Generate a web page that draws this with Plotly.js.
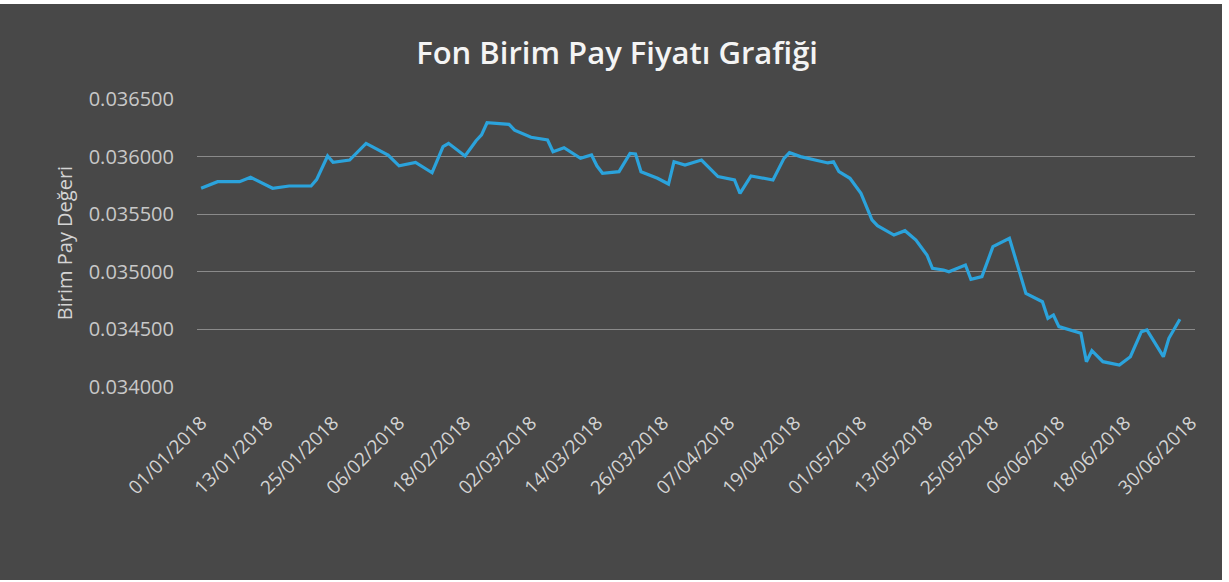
<!DOCTYPE html>
<html>
<head>
<meta charset="utf-8">
<script src="https://cdn.plot.ly/plotly-3.0.1.min.js"></script>
<style>
html,body{margin:0;padding:0;background:#ffffff;}
#chart{position:absolute;left:0;top:4px;width:1222px;height:576px;}
</style>
</head>
<body>
<div id="chart"></div>
<script>
// Dates of the readings (YYYY-MM-DD)
const dates = [
 "2018-01-01","2018-01-04","2018-01-08","2018-01-10","2018-01-14","2018-01-17","2018-01-21","2018-01-22",
 "2018-01-24","2018-01-25","2018-01-28","2018-01-31","2018-02-04","2018-02-05","2018-02-06","2018-02-09",
 "2018-02-12","2018-02-14","2018-02-15","2018-02-18","2018-02-20","2018-02-21","2018-02-22","2018-02-26",
 "2018-02-27","2018-03-02","2018-03-05","2018-03-06","2018-03-08","2018-03-11","2018-03-13","2018-03-14",
 "2018-03-15","2018-03-18","2018-03-20","2018-03-21","2018-03-22","2018-03-25","2018-03-27","2018-03-28",
 "2018-03-30","2018-04-02","2018-04-05","2018-04-08","2018-04-09","2018-04-11","2018-04-15","2018-04-17",
 "2018-04-18","2018-04-20","2018-04-25","2018-04-26","2018-04-27","2018-04-29","2018-05-01","2018-05-03",
 "2018-05-04","2018-05-07","2018-05-09","2018-05-11","2018-05-13","2018-05-14","2018-05-16","2018-05-17",
 "2018-05-20","2018-05-21","2018-05-23","2018-05-25","2018-05-28","2018-05-31","2018-06-03","2018-06-04",
 "2018-06-05","2018-06-06","2018-06-10","2018-06-11","2018-06-12","2018-06-14","2018-06-17","2018-06-19",
 "2018-06-21","2018-06-22","2018-06-25","2018-06-26","2018-06-28"
];
// Unit share price values
const prices = [
 0.035725,0.035782,0.035782,0.035820,0.035725,0.035745,0.035745,0.035800,
 0.036005,0.035950,0.035970,0.036115,0.036014,0.035970,0.035920,0.035950,
 0.035860,0.036086,0.036115,0.036005,0.036138,0.036188,0.036294,0.036280,
 0.036230,0.036168,0.036144,0.036043,0.036077,0.035985,0.036014,0.035918,
 0.035855,0.035869,0.036028,0.036023,0.035869,0.035812,0.035762,0.035956,
 0.035927,0.035970,0.035826,0.035797,0.035681,0.035832,0.035797,0.035985,
 0.036034,0.036000,0.035945,0.035955,0.035869,0.035812,0.035681,0.035450,
 0.035400,0.035319,0.035357,0.035276,0.035146,0.035030,0.035016,0.035000,
 0.035059,0.034935,0.034958,0.035218,0.035291,0.034813,0.034740,0.034596,
 0.034625,0.034524,0.034466,0.034220,0.034315,0.034220,0.034191,0.034263,
 0.034480,0.034495,0.034263,0.034423,0.034588
];
// X tick dates and labels
const tickDates = ["2018-01-01","2018-01-13","2018-01-25","2018-02-06","2018-02-18","2018-03-02","2018-03-14","2018-03-26",
 "2018-04-07","2018-04-19","2018-05-01","2018-05-13","2018-05-25","2018-06-06","2018-06-18","2018-06-30"];
const tickLabels = ["01/01/2018","13/01/2018","25/01/2018","06/02/2018","18/02/2018","02/03/2018","14/03/2018","26/03/2018",
 "07/04/2018","19/04/2018","01/05/2018","13/05/2018","25/05/2018","06/06/2018","18/06/2018","30/06/2018"];
const yTicks = [0.034, 0.0345, 0.035, 0.0355, 0.036, 0.0365];

const trace = {
  x: dates, y: prices, type: 'scatter', mode: 'lines',
  line: {color: '#2ba3dc', width: 3.2},
  hoverinfo: 'x+y'
};
const font = "'Open Sans', sans-serif";
const layout = {
  width: 1222, height: 576,
  paper_bgcolor: '#484848', plot_bgcolor: '#484848',
  margin: {l: 197, r: 27, t: 95, b: 193},
  title: {text: 'Fon Birim Pay Fiyatı Grafiği', x: 0.505, xanchor: 'center', y: 0.915, yanchor: 'middle',
          font: {family: font, size: 31, color: '#f4f4f4', weight: 600}},
  showlegend: false,
  xaxis: {
    type: 'date', range: ['2017-12-31 06:00', '2018-06-30 18:00'],
    tickmode: 'array', tickvals: tickDates, ticktext: tickLabels, tickangle: -45,
    showgrid: false, zeroline: false, showline: false, ticks: '',
    ticklabelstandoff: 20,
    tickfont: {family: font, size: 19, color: '#d4d4d4'}
  },
  yaxis: {
    range: [0.034, 0.0365], tickmode: 'array', tickvals: yTicks, tickformat: '.6f',
    showgrid: true, gridcolor: '#8a8a8a', gridwidth: 1, zeroline: false, showline: false, ticks: '',
    ticklen: 0, ticklabelstandoff: 22,
    tickfont: {family: font, size: 20, color: '#c8c8c8'},
    title: {text: 'Birim Pay Değeri', standoff: 10, font: {family: font, size: 20, color: '#d4d4d4'}}
  }
};
Plotly.newPlot('chart', [trace], layout, {displayModeBar: false, staticPlot: true});
</script>
</body>
</html>
